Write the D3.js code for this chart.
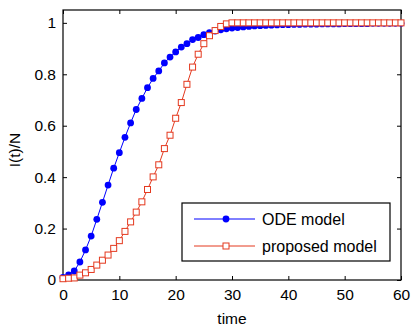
<!DOCTYPE html>
<html>
<head>
<meta charset="utf-8">
<script src="https://cdn.jsdelivr.net/npm/d3@7"></script>
<style>
  body { margin: 0; background: #fff; }
  svg text { font-family: "Liberation Sans", Arial, sans-serif; }
</style>
</head>
<body>
<div id="chart"></div>
<script>
// time points 0..60
const times = d3.range(0, 61);

// ODE model I(t)/N
const odeValues = [
  0.01, 0.02, 0.035, 0.07, 0.117, 0.171, 0.236, 0.302, 0.369, 0.435,
  0.495, 0.555, 0.611, 0.663, 0.706, 0.748, 0.784, 0.813, 0.844, 0.867,
  0.887, 0.906, 0.919, 0.935, 0.943, 0.954, 0.962, 0.968, 0.973, 0.977,
  0.98, 0.982, 0.984, 0.986, 0.988, 0.989, 0.99, 0.991, 0.992, 0.993,
  0.993, 0.994, 0.994, 0.995, 0.995, 0.995, 0.996, 0.996, 0.996, 0.996,
  0.997, 0.997, 0.997, 0.997, 0.997, 0.998, 0.998, 0.998, 0.998, 0.998,
  0.998
];

// proposed model I(t)/N
const proposedValues = [
  0.005, 0.007, 0.008, 0.019, 0.028, 0.041, 0.058, 0.077, 0.097, 0.123,
  0.153, 0.189, 0.226, 0.264, 0.304, 0.352, 0.401, 0.448, 0.511, 0.563,
  0.629, 0.69, 0.761, 0.828, 0.878, 0.919, 0.95, 0.97, 0.986, 0.996,
  1, 1, 1, 1, 1, 1, 1, 1, 1, 1,
  1, 1, 1, 1, 1, 1, 1, 1, 1, 1,
  1, 1, 1, 1, 1, 1, 1, 1, 1, 1,
  1
];

const xTicks = [0, 10, 20, 30, 40, 50, 60];
const yTicks = [0, 0.2, 0.4, 0.6, 0.8, 1];
const seriesNames = ['ODE model', 'proposed model'];

const blue = '#0000ff';
const red = '#e4391f';

const width = 412;
const height = 330;
const margin = { top: 10, right: 11, bottom: 50, left: 63 };

const svg = d3.select('#chart')
  .append('svg')
  .attr('width', width)
  .attr('height', height);

const x = d3.scaleLinear()
  .domain([0, 60])
  .range([margin.left, width - margin.right]);

const y = d3.scaleLinear()
  .domain([0, 1.05])
  .range([280, margin.top]);

const plotLeft = x(0), plotRight = x(60);
const plotTop = y(1.05), plotBottom = y(0);

// Axes with inward ticks (bottom/left labelled, top/right unlabeled)
const tickLen = 4;

svg.append('g')
  .attr('transform', `translate(0,${plotBottom})`)
  .call(d3.axisBottom(x).tickValues(xTicks).tickSize(-tickLen).tickPadding(9).tickFormat(d3.format('d')))
  .call(g => g.select('.domain').remove());

svg.append('g')
  .attr('transform', `translate(0,${plotTop})`)
  .call(d3.axisTop(x).tickValues(xTicks).tickSize(-tickLen).tickFormat(''))
  .call(g => g.select('.domain').remove());

svg.append('g')
  .attr('transform', `translate(${plotLeft},0)`)
  .call(d3.axisLeft(y).tickValues(yTicks).tickSize(-tickLen).tickPadding(7).tickFormat(d => d3.format('')(+d.toFixed(1))))
  .call(g => g.select('.domain').remove());

svg.append('g')
  .attr('transform', `translate(${plotRight},0)`)
  .call(d3.axisRight(y).tickValues(yTicks).tickSize(-tickLen).tickFormat(''))
  .call(g => g.select('.domain').remove());

svg.selectAll('.tick line').attr('stroke', '#000');
svg.selectAll('.tick text')
  .attr('font-size', 15.5)
  .attr('fill', '#000');

// plot frame
svg.append('rect')
  .attr('x', plotLeft)
  .attr('y', plotTop)
  .attr('width', plotRight - plotLeft)
  .attr('height', plotBottom - plotTop)
  .attr('fill', 'none')
  .attr('stroke', '#000')
  .attr('stroke-width', 1.2);

// axis titles
svg.append('text')
  .attr('x', (plotLeft + plotRight) / 2)
  .attr('y', 324)
  .attr('text-anchor', 'middle')
  .attr('font-size', 15.5)
  .text('time');

svg.append('text')
  .attr('transform', `translate(20,150) rotate(-90)`)
  .attr('text-anchor', 'middle')
  .attr('font-size', 15.5)
  .text('I(t)/N');

const line = d3.line()
  .x((d, i) => x(times[i]))
  .y(d => y(d));

// ODE model
svg.append('path')
  .datum(odeValues)
  .attr('d', line)
  .attr('fill', 'none')
  .attr('stroke', blue)
  .attr('stroke-width', 1);

svg.append('g')
  .selectAll('circle')
  .data(odeValues)
  .enter()
  .append('circle')
  .attr('cx', (d, i) => x(times[i]))
  .attr('cy', d => y(d))
  .attr('r', 3.4)
  .attr('fill', blue);

// proposed model
svg.append('path')
  .datum(proposedValues)
  .attr('d', line)
  .attr('fill', 'none')
  .attr('stroke', red)
  .attr('stroke-width', 1);

const sq = 6;
svg.append('g')
  .selectAll('rect')
  .data(proposedValues)
  .enter()
  .append('rect')
  .attr('x', (d, i) => x(times[i]) - sq / 2)
  .attr('y', d => y(d) - sq / 2)
  .attr('width', sq)
  .attr('height', sq)
  .attr('fill', '#fff')
  .attr('stroke', red)
  .attr('stroke-width', 1);

// Legend
const legend = svg.append('g');
legend.append('rect')
  .attr('x', 182)
  .attr('y', 203)
  .attr('width', 208)
  .attr('height', 58)
  .attr('fill', '#fff')
  .attr('stroke', '#000')
  .attr('stroke-width', 1.2);

const rows = legend.selectAll('g.row')
  .data(seriesNames)
  .enter()
  .append('g')
  .attr('transform', (d, i) => `translate(0,${219 + i * 27})`);

rows.append('line')
  .attr('x1', 194)
  .attr('x2', 255)
  .attr('stroke', (d, i) => i === 0 ? blue : red)
  .attr('stroke-width', 1);

rows.filter((d, i) => i === 0)
  .append('circle')
  .attr('cx', 226)
  .attr('r', 3.4)
  .attr('fill', blue);

rows.filter((d, i) => i === 1)
  .append('rect')
  .attr('x', 226 - sq / 2)
  .attr('y', -sq / 2)
  .attr('width', sq)
  .attr('height', sq)
  .attr('fill', '#fff')
  .attr('stroke', red);

rows.append('text')
  .attr('x', 262)
  .attr('dy', '0.35em')
  .attr('font-size', 16)
  .text(d => d);
</script>
</body>
</html>
